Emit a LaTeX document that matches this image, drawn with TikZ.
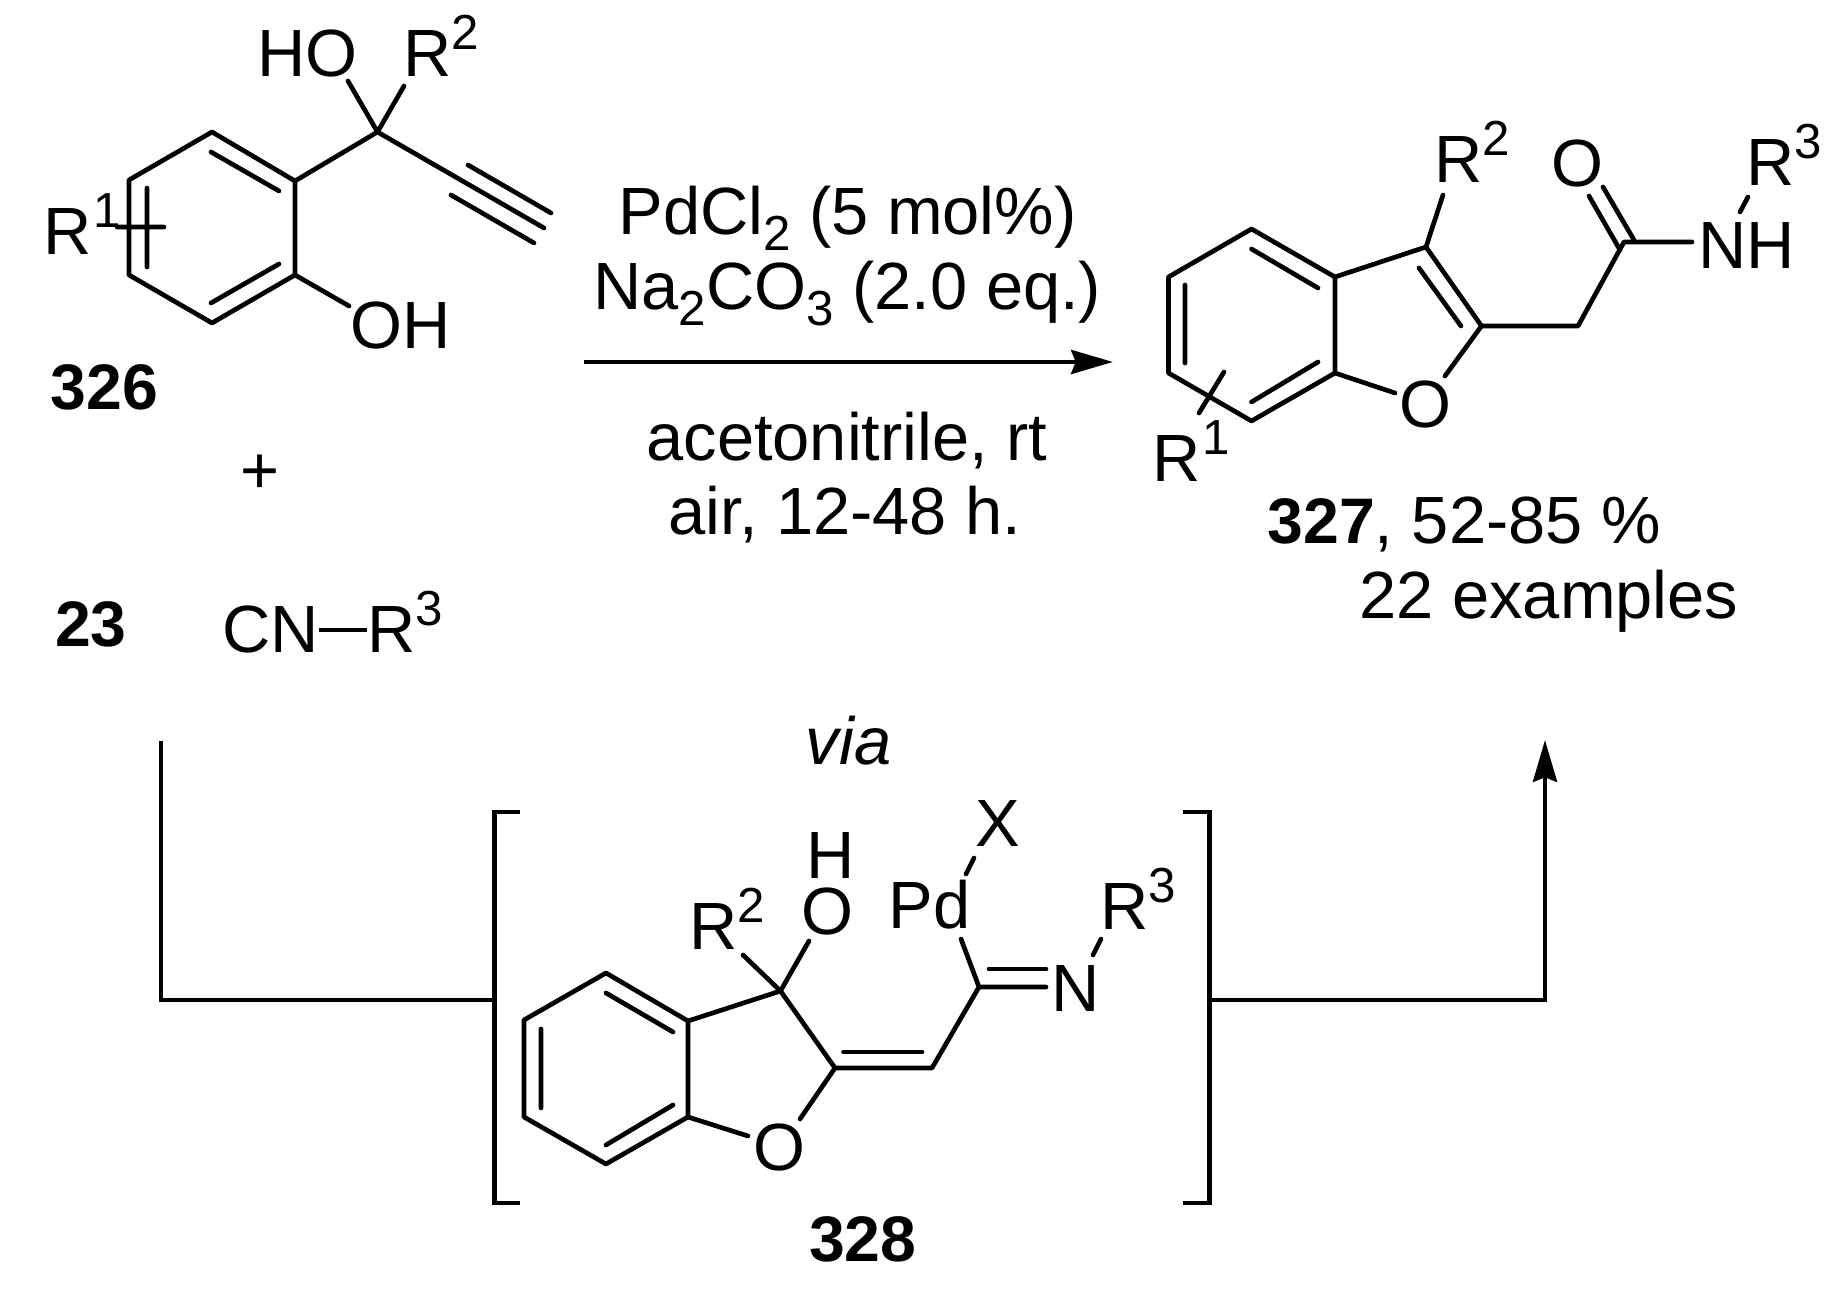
\documentclass[tikz,border=0pt]{standalone}
\usepackage{fontspec}
\usepackage{graphicx}
\setmainfont{Liberation Sans}
\usetikzlibrary{arrows.meta}
\newcommand{\supp}[1]{\raisebox{7.7pt}{\fontsize{14}{16}\selectfont #1}}
\newcommand{\subb}[1]{\raisebox{-4.5pt}{\fontsize{14}{16}\selectfont #1}}
\tikzset{
  bond/.style={line width=1.33pt,line cap=round,line join=round,black},
  conn/.style={line width=1.33pt,line cap=butt,line join=miter,black},
  flow/.style={conn,-{Stealth[length=11.9pt,width=6.8pt,inset=1.3pt]}},
  lab/.style={anchor=base west,inner sep=0pt,outer sep=0pt,xshift=-0.035cm,font=\fontsize{19}{23}\selectfont,text=black},
  cmpd/.style={anchor=base west,inner sep=0pt,outer sep=0pt,text=black,font=\fontsize{18.3}{23}\selectfont\bfseries}
}
\begin{document}
\begin{tikzpicture}[x=0.01cm,y=-0.01cm]
\useasboundingbox (0,0) rectangle (1841,1295);
\fill[white] (0,0) rectangle (1841,1295);
% ---- 326
\coordinate (a1) at (212,132); \coordinate (a2) at (295,181); \coordinate (a3) at (295,275);
\coordinate (a4) at (212,323); \coordinate (a5) at (129,275); \coordinate (a6) at (129,180);
\coordinate (aq) at (377.5,132); \coordinate (ay) at (544,228);
\draw[bond] (a1)--(a2)--(a3)--(a4)--(a5)--(a6)--cycle;
\draw[bond] (211,152)--(279,191) (211,303)--(279,264) (147,188)--(147,267) (117,227)--(164,227);
\draw[bond] (a2)--(aq)--(ay);
\draw[bond] (468,165)--(551,213) (451,195)--(534,243);
\draw[bond] (aq)--(348,81) (aq)--(404,86) (a3)--(349,306);
\node[lab] (ho) at (261,77) {HO};
\node[lab] (r2a) at (407,77) {R\supp{2}};
\node[lab] (r1a) at (47,255) {R\kern0.5pt\supp{1}};
\node[lab] (oha) at (354,349) {OH};
\node[cmpd] (n326) at (51,410) {326};
\node[lab,anchor=center] (plus) at (263.5,474) {+};
\node[cmpd] (n23) at (55,647) {23};
\node[lab] (cn) at (226,653) {CN};
\node[lab] (r3c) at (371,653) {R\supp{3}};
\draw[conn] (cn.east) -- (cn.east -| r3c.west);
% ---- conditions
\node[lab] (c1) at (622,235) {PdCl\subb{2} (5 mol\%)};
\node[lab] (c2) at (597,310) {Na\subb{2}CO\subb{3} (2.0 eq.)};
\node[lab] (c3) at (650,461) {acetonitrile, rt};
\node[lab] (c4) at (672,535) {air, 12-48 h.};
\coordinate (rs) at (584,362); \coordinate (re) at (1113,362);
\draw[flow] (rs)--(re);
% ---- 327
\coordinate (b1) at (1251.5,229); \coordinate (b2) at (1335,277); \coordinate (b3) at (1335,373);
\coordinate (b4) at (1251.5,421); \coordinate (b5) at (1168.5,373); \coordinate (b6) at (1168.5,277);
\coordinate (bc3) at (1426,247); \coordinate (bc2) at (1481.5,326); \coordinate (bch) at (1578,326);
\coordinate (bco) at (1624,242);
\draw[bond] (b1)--(b2)--(b3)--(b4)--(b5)--(b6)--cycle;
\draw[bond] (1251.5,249)--(1318,288) (1185,285)--(1185,363) (1251.5,402)--(1318,362);
\draw[bond] (b2)--(bc3)--(bc2)--(bch)--(bco)--(1692,242);
\draw[bond] (1419,268)--(1461,326);
\draw[bond] (bc3)--(1443,195);
\draw[bond] (1589,196)--(1620,250) (1603,187)--(1634,240);
\draw[bond] (bc2)--(1445,376) (b3)--(1395,393);
\draw[bond] (1224,372)--(1199,413) (1740,212)--(1748,197);
\node[lab] (r2b) at (1438,183) {R\supp{2}};
\node[lab] (ob) at (1555,187) {O};
\node[lab] (r3b) at (1750,186) {R\supp{3}};
\node[lab] (nh) at (1702,269) {NH};
\node[lab] (oring) at (1403,428) {O};
\node[lab] (r1b) at (1156,482) {R\kern0.5pt\supp{1}};
\node[lab] (y327) at (1271,544) {{\fontsize{18.3}{23}\selectfont\bfseries 327}, 52-85 \%};
\node[lab] (ex) at (1363,619) {22 examples};
% ---- via
\node[lab,anchor=base,font=\fontsize{19}{23}\selectfont\itshape] (via) at (852,765) {via};
% ---- 328
\coordinate (bl1) at (520,812); \coordinate (bl2) at (494.5,812); \coordinate (bl3) at (494.5,1203); \coordinate (bl4) at (520,1203);
\coordinate (br1) at (1183,812); \coordinate (br2) at (1209.5,812); \coordinate (br3) at (1209.5,1203); \coordinate (br4) at (1183,1203);
\draw[conn] (bl1)--(bl2)--(bl3)--(bl4);
\draw[conn] (br1)--(br2)--(br3)--(br4);
\coordinate (lt) at (161,741); \coordinate (lc) at (161,1000); \coordinate (lb) at (494.5,1000);
\coordinate (rb) at (1209.5,1000); \coordinate (rc) at (1545,1000); \coordinate (rt) at (1545,740);
\draw[conn] (lt)--(lc)--(lb);
\draw[flow] (rb)--(rc)--(rt);
\coordinate (d1) at (606,973); \coordinate (d2) at (688,1021); \coordinate (d3) at (688,1117);
\coordinate (d4) at (606,1164); \coordinate (d5) at (524,1117); \coordinate (d6) at (524,1020);
\coordinate (dc3) at (780.5,991); \coordinate (dc2) at (835,1068); \coordinate (dch) at (932,1068);
\coordinate (dci) at (979,987);
\draw[bond] (d1)--(d2)--(d3)--(d4)--(d5)--(d6)--cycle;
\draw[bond] (606,993)--(673,1032) (541,1029)--(541,1108) (606,1145)--(673,1105);
\draw[bond] (d2)--(dc3)--(dc2)--(dch)--(dci)--(1046,987);
\draw[bond] (843.5,1052)--(922,1052) (989,969)--(1046,969);
\draw[bond] (dci)--(961,939);
\draw[bond] (dc2)--(800,1119) (d3)--(748,1136);
\draw[bond] (dc3)--(743,955) (dc3)--(809,941);
\draw[bond] (966,874)--(974,858) (1093,955)--(1101,939);
\node[lab] (od) at (757,1171) {O};
\node[lab] (r2d) at (693,950) {R\supp{2}};
\node[lab] (ohd) at (805,935) {O};
\node[lab] (hd) at (810,879) {H};
\node[lab] (pd) at (892,929) {Pd};
\node[lab] (xd) at (979,847) {X};
\node[lab] (r3d) at (1104,930) {R\supp{3}};
\node[lab] (nd) at (1055,1012) {N};
\node[cmpd] (n328) at (809,1262) {328};
\end{tikzpicture}
\end{document}
